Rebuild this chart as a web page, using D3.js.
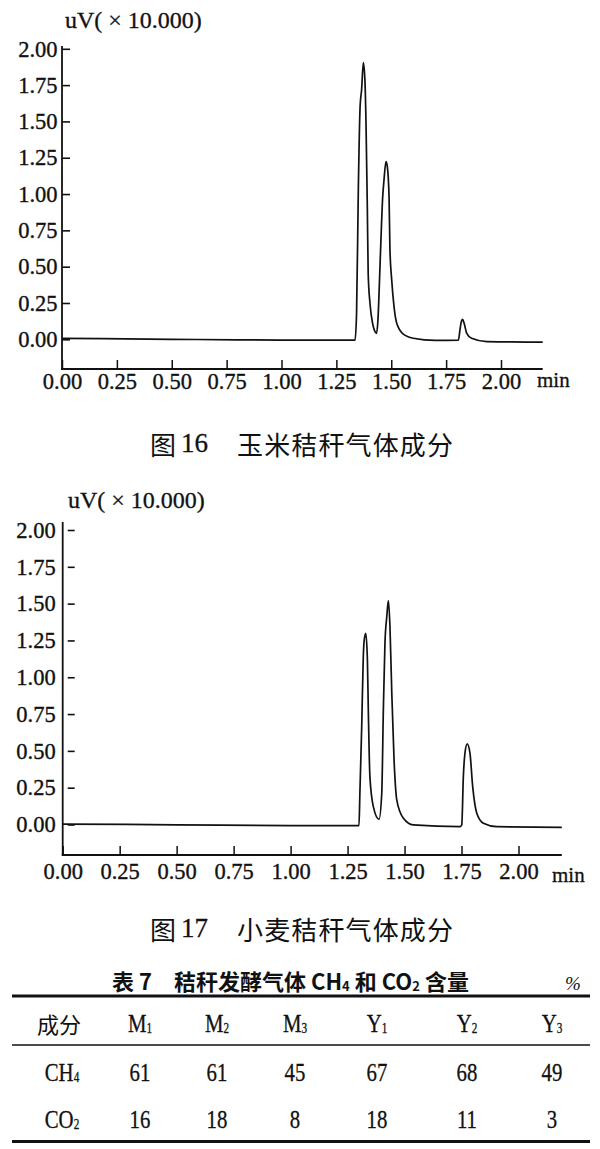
<!DOCTYPE html>
<html><head><meta charset="utf-8">
<script src="https://cdn.jsdelivr.net/npm/d3@7/dist/d3.min.js"></script>
<style>body{margin:0;background:#fff}svg{display:block}</style>
</head><body>
<svg id="c" width="600" height="1149"></svg>
<script>
// ---------- data ----------
const yTicks = [0, 0.25, 0.5, 0.75, 1.0, 1.25, 1.5, 1.75, 2.0];
const xTicks = [0, 0.25, 0.5, 0.75, 1.0, 1.25, 1.5, 1.75, 2.0];
const yUnitLabel = "uV( × 10.000)";
const xUnitLabel = "min";

// Fig 16 - corn straw (time in min, signal in uV x10000)
const cornTime = [0, 0.5, 0.993, 1.30, 1.335, 1.342, 1.350, 1.358, 1.365, 1.373, 1.380, 1.385, 1.391, 1.395, 1.403, 1.415, 1.424, 1.433, 1.440, 1.446, 1.453, 1.461, 1.467, 1.476, 1.482, 1.490, 1.494, 1.502, 1.513, 1.525, 1.555, 1.600, 1.70, 1.806, 1.813, 1.819, 1.825, 1.832, 1.844, 1.866, 1.935, 2.05, 2.19];
const cornSignal = [0.007, 0.0, -0.005, -0.006, -0.006, 0.18, 1.03, 1.60, 1.72, 1.905, 1.785, 1.49, 0.91, 0.45, 0.25, 0.11, 0.06, 0.041, 0.15, 0.386, 0.684, 0.98, 1.097, 1.223, 1.19, 0.98, 0.62, 0.41, 0.22, 0.11, 0.035, 0.007, -0.008, -0.005, 0.064, 0.121, 0.138, 0.11, 0.041, 0.007, -0.016, -0.018, -0.020];

// Fig 17 - wheat straw
const wheatTime = [0, 0.5, 1.0, 1.300, 1.304, 1.312, 1.319, 1.323, 1.330, 1.337, 1.341, 1.348, 1.363, 1.388, 1.400, 1.407, 1.414, 1.422, 1.429, 1.436, 1.444, 1.454, 1.466, 1.495, 1.538, 1.743, 1.751, 1.758, 1.765, 1.775, 1.787, 1.799, 1.817, 1.846, 1.904, 2.19];
const wheatSignal = [0.003, -0.002, -0.008, -0.008, 0.212, 0.664, 1.14, 1.253, 1.298, 1.117, 0.778, 0.325, 0.121, 0.035, 0.212, 0.778, 1.23, 1.411, 1.52, 1.343, 0.891, 0.438, 0.166, 0.042, -0.003, -0.015, -0.003, 0.325, 0.484, 0.547, 0.484, 0.257, 0.076, 0.008, -0.015, -0.019];

const caption16 = ["图", "16", "玉米秸秆气体成分"];
const caption17 = ["图", "17", "小麦秸秆气体成分"];

// Table 7
const tableTitle = ["表 7　秸秆发酵气体 CH", "4", " 和 CO", "2", " 含量"];
const tableUnit = "%";
const headLabel = "成分";
const colLetters = ["M", "M", "M", "Y", "Y", "Y"];
const colSubs = ["1", "2", "3", "1", "2", "3"];
const rowLetters = ["CH", "CO"];
const rowSubs = ["4", "2"];
const ch4Values = [61, 61, 45, 67, 68, 49];
const co2Values = [16, 18, 8, 18, 11, 3];

// ---------- drawing ----------
const svg = d3.select("#c");
const INK = "#111";
const SERIF = "'Liberation Serif','Times New Roman',serif";
const CJK = "'Noto Sans CJK SC','Noto Sans CJK TC',sans-serif";

function heavy(sel, w) {
  sel.attr("stroke", INK).attr("stroke-width", w).attr("paint-order", "stroke");
}

function chart(times, signals, L) {
  const g = svg.append("g");
  const x = d3.scaleLinear().domain([0, 2]).range([L.x0, L.x2]);
  const y = d3.scaleLinear().domain([0, 2]).range([L.y0, L.y2]);

  g.append("line").attr("x1", L.x0).attr("x2", L.x0).attr("y1", L.yTop).attr("y2", L.xAxisY)
    .attr("stroke", INK).attr("stroke-width", 1.8);
  g.append("line").attr("x1", L.x0 - 1).attr("x2", x(2.19)).attr("y1", L.xAxisY).attr("y2", L.xAxisY)
    .attr("stroke", INK).attr("stroke-width", 1.8);

  const ya = g.append("g").attr("transform", `translate(${L.x0},0)`)
    .call(d3.axisLeft(y).tickValues(yTicks).tickFormat(d3.format(".2f")).tickSize(-L.yTickLen).tickPadding(L.yPad));
  ya.select(".domain").remove();
  ya.selectAll("line").attr("x1", L.yTickGap).attr("stroke", INK).attr("stroke-width", 1.6);

  const xa = g.append("g").attr("transform", `translate(0,${L.xAxisY})`)
    .call(d3.axisBottom(x).tickValues(xTicks).tickFormat(d3.format(".2f")).tickSize(-9).tickPadding(L.xPad));
  xa.select(".domain").remove();
  xa.selectAll("line").attr("stroke", INK).attr("stroke-width", 1.5);

  [ya, xa].forEach(a => a.attr("font-family", SERIF).attr("font-size", 22.5));
  const tt = g.selectAll(".tick text").style("font-family", SERIF).style("font-size", "22.5px").attr("fill", INK);
  heavy(tt, 0.35);

  heavy(g.append("text").attr("x", L.unitX).attr("y", L.unitY).style("font-family", SERIF)
    .style("font-size", "24px").attr("fill", INK).text(yUnitLabel), 0.3);
  heavy(g.append("text").attr("x", L.minX).attr("y", L.minY).style("font-family", SERIF)
    .style("font-size", "21px").attr("fill", INK).text(xUnitLabel), 0.3);

  const pts = times.map((t, i) => [t, signals[i]]);
  g.append("path").datum(pts)
    .attr("d", d3.line().x(d => x(d[0])).y(d => y(d[1])).curve(d3.curveMonotoneX))
    .attr("fill", "none").attr("stroke", INK).attr("stroke-width", 1.7).attr("stroke-linejoin", "round");
}

chart(cornTime, cornSignal, {
  x0: 62, x2: 501, y0: 339.3, y2: 48.8, yTop: 46, xAxisY: 369,
  yTickLen: 8, yTickGap: 0, yPad: 4.5, xPad: 4.5,
  unitX: 65, unitY: 28, minX: 537, minY: 387
});
chart(wheatTime, wheatSignal, {
  x0: 62.7, x2: 518.5, y0: 824.5, y2: 530, yTop: 522, xAxisY: 855,
  yTickLen: 12, yTickGap: 5, yPad: 7, xPad: 8,
  unitX: 68, unitY: 508, minX: 552, minY: 882
});

// captions
function caption(parts, cy) {
  svg.append("text").attr("x", 150).attr("y", cy).attr("dominant-baseline", "central")
    .style("font-family", CJK).style("font-size", "26px").attr("fill", INK).text(parts[0]);
  heavy(svg.append("text").attr("x", 181).attr("y", cy).attr("dominant-baseline", "central")
    .style("font-family", SERIF).style("font-size", "27px").attr("fill", INK).text(parts[1]), 0.3);
  svg.append("text").attr("x", 237).attr("y", cy).attr("dominant-baseline", "central")
    .style("font-family", CJK).style("font-size", "26px").attr("fill", INK)
    .attr("textLength", 216).attr("lengthAdjust", "spacing").text(parts[2]);
}
caption(caption16, 443);
caption(caption17, 928);

// ---------- table ----------
const tg = svg.append("g");
const title = tg.append("text").attr("x", 112).attr("y", 980).attr("dominant-baseline", "central")
  .style("font-family", CJK).attr("font-weight", "bold").style("font-size", "22px").attr("fill", INK);
tableTitle.forEach((s, i) => {
  const sub = i % 2 === 1;
  title.append("tspan").style("font-size", sub ? "13px" : "22px")
    .attr("dy", sub ? 5 : (i > 0 ? -5 : 0)).text(s);
});
tg.append("text").attr("x", 573).attr("y", 983).attr("dominant-baseline", "central").attr("text-anchor", "middle")
  .style("font-family", SERIF).attr("font-style", "italic").style("font-size", "19px").attr("fill", INK).text(tableUnit);

const L = 12, R = 590;
[[996, 3], [1045, 1.6], [1141.5, 3]].forEach(([yy, w]) =>
  tg.append("line").attr("x1", L).attr("x2", R).attr("y1", yy).attr("y2", yy).attr("stroke", INK).attr("stroke-width", w));

const colKeys = colLetters.map((c, i) => c + colSubs[i]);
const colX = d3.scaleOrdinal().domain(colKeys).range([140, 217, 295, 377, 467, 552]);
const rowY = d3.scaleOrdinal().domain(["head", "CH4", "CO2"]).range([1023, 1072, 1119]);

function cellText(cx, cy, main, sub) {
  const t = tg.append("text").attr("transform", `translate(${cx},${cy}) scale(0.8,1)`)
    .attr("text-anchor", "middle").attr("dominant-baseline", "central")
    .style("font-family", SERIF).style("font-size", "26px").attr("fill", INK);
  heavy(t, 0.3);
  t.append("tspan").text(main);
  if (sub) t.append("tspan").style("font-size", "14px").attr("dy", 6).text(sub);
}

tg.append("text").attr("x", 59).attr("y", rowY("head")).attr("text-anchor", "middle").attr("dominant-baseline", "central")
  .style("font-family", CJK).style("font-size", "22px").attr("fill", INK).text(headLabel);
colKeys.forEach((k, i) => cellText(colX(k), rowY("head"), colLetters[i], colSubs[i]));

[["CH4", ch4Values], ["CO2", co2Values]].forEach(([rk, vals], r) => {
  cellText(62, rowY(rk), rowLetters[r], rowSubs[r]);
  vals.forEach((v, i) => cellText(colX(colKeys[i]), rowY(rk), String(v)));
});
</script>
</body></html>
